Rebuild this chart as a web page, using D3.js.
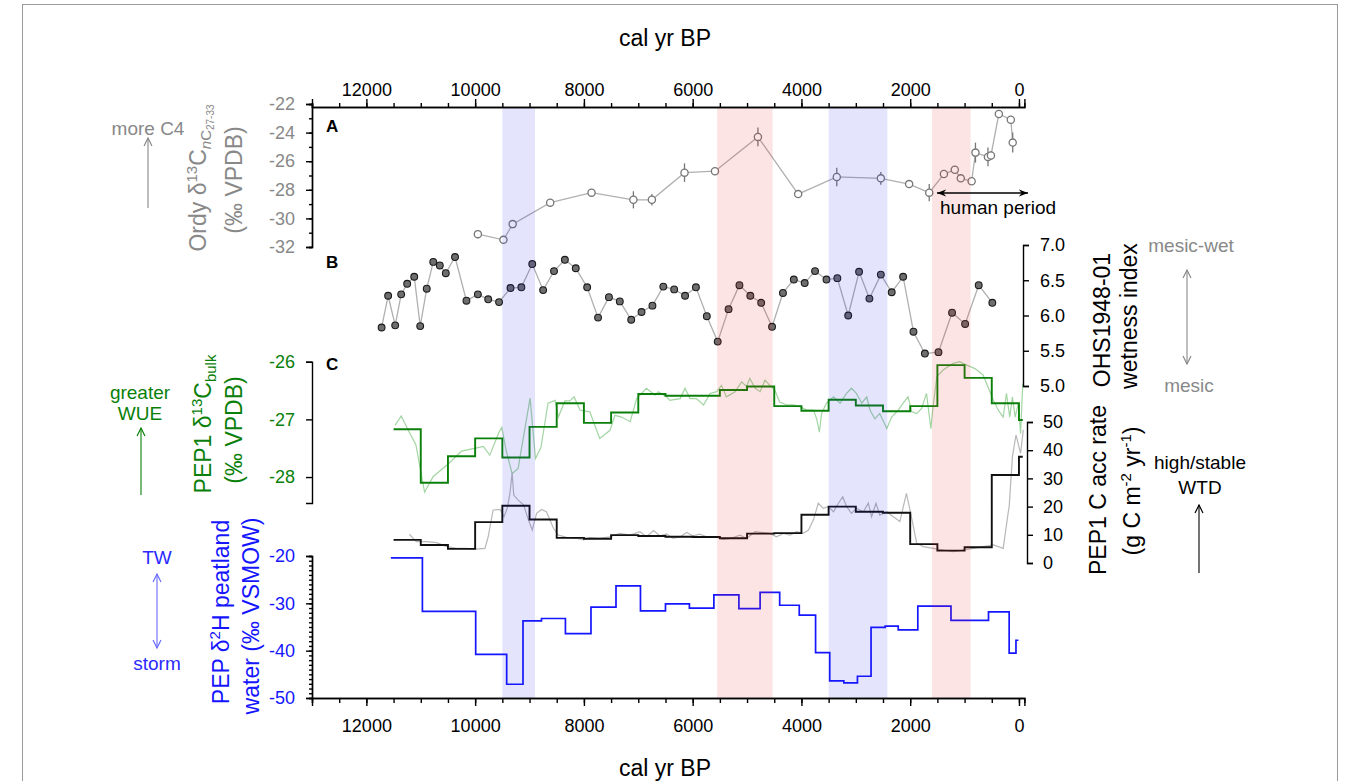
<!DOCTYPE html>
<html><head><meta charset="utf-8">
<script src="https://cdn.jsdelivr.net/npm/d3@7"></script>
<style>
body{margin:0;background:#fff;}
svg{font-family:"Liberation Sans", Arial, sans-serif;}
.axis path,.axis line{stroke:#000;stroke-width:1.4;}
.axis text{font-size:18px;}
</style></head><body>
<svg id="chart" width="1360" height="781"></svg>
<script>
// --- data ---
const xTicks = [12000, 10000, 8000, 6000, 4000, 2000, 0];

// shaded intervals (cal yr BP)
const bandStart = [9500, 5550, 3500, 1600];
const bandEnd = [8900, 4530, 2420, 890];
const bandColor = ["rgba(30,30,230,0.12)", "rgba(240,30,30,0.12)", "rgba(30,30,230,0.12)", "rgba(240,30,30,0.12)"];

// A: Ordy d13C nC27-33
const ordyYear = [9950, 9480, 9310, 8620, 7860, 7090, 6750, 6150, 5590, 4800, 4060, 3350, 2540, 2020, 1650, 1380, 1180, 1070, 870, 800, 570, 515, 370, 150, 115];
const ordyVal = [-31.1, -31.5, -30.4, -28.9, -28.2, -28.7, -28.7, -26.8, -26.7, -24.3, -28.3, -27.1, -27.2, -27.6, -28.2, -26.9, -26.6, -27.2, -27.4, -25.4, -25.7, -25.6, -22.7, -23.1, -24.7];
const ordyErr = [0, 0, 0, 0, 0, 0.6, 0.4, 0.65, 0, 0.65, 0, 0.65, 0.45, 0, 0.6, 0, 0, 0, 0, 0.7, 0.65, 0.3, 0, 0, 0.7];

// B: OHS1948-01 wetness index
const wetYear = [11720, 11600, 11470, 11360, 11250, 11120, 11010, 10890, 10770, 10650, 10540, 10370, 10160, 9950, 9760, 9560, 9350, 9150, 8950, 8750, 8550, 8350, 8150, 7940, 7740, 7540, 7340, 7130, 6940, 6740, 6540, 6340, 6140, 5940, 5740, 5540, 5340, 5140, 4940, 4740, 4540, 4340, 4140, 3940, 3750, 3540, 3340, 3140, 2940, 2750, 2540, 2340, 2130, 1940, 1730, 1480, 1230, 990, 740, 490];
const wetVal = [5.83, 6.28, 5.86, 6.30, 6.45, 6.55, 5.85, 6.38, 6.76, 6.71, 6.60, 6.83, 6.21, 6.30, 6.23, 6.19, 6.39, 6.40, 6.73, 6.36, 6.63, 6.79, 6.67, 6.40, 5.97, 6.26, 6.20, 5.94, 6.05, 6.14, 6.41, 6.37, 6.28, 6.40, 5.99, 5.63, 6.09, 6.43, 6.28, 6.18, 5.84, 6.32, 6.51, 6.46, 6.63, 6.51, 6.53, 6.00, 6.62, 6.24, 6.58, 6.33, 6.55, 5.77, 5.46, 5.48, 6.04, 5.88, 6.43, 6.18];

// C: PEP1 d13C bulk (raw + 500-yr bins)
const d13Year = [11470, 11360, 11230, 11090, 10930, 10770, 10490, 10250, 9990, 9850, 9730, 9560, 9510, 9430, 9320, 9210, 8990, 8890, 8790, 8660, 8530, 8470, 8350, 8260, 8180, 8070, 7890, 7710, 7520, 7430, 7310, 7150, 7030, 6850, 6690, 6630, 6480, 6420, 6230, 6140, 6050, 5930, 5800, 5680, 5560, 5470, 5380, 5220, 5100, 5010, 4950, 4850, 4760, 4670, 4580, 4490, 4400, 4270, 4150, 4030, 3900, 3780, 3720, 3670, 3630, 3540, 3410, 3290, 3170, 3080, 2990, 2890, 2800, 2740, 2650, 2560, 2430, 2340, 2220, 2130, 2040, 1970, 1880, 1790, 1700, 1620, 1580, 1510, 1390, 1210, 1090, 960, 810, 660, 560, 470, 380, 290, 230, 170, 120, 70, 10, -30, -70];
const d13Val = [-27.10, -26.94, -27.19, -27.44, -28.26, -27.99, -27.77, -27.55, -27.50, -27.47, -27.62, -27.22, -27.14, -27.54, -27.94, -27.85, -26.63, -27.68, -27.49, -26.72, -26.67, -26.96, -26.68, -26.68, -26.61, -26.84, -26.87, -27.33, -27.19, -26.93, -26.96, -27.04, -26.64, -26.46, -26.58, -26.52, -26.61, -26.67, -26.64, -26.46, -26.64, -26.64, -26.75, -26.55, -26.52, -26.41, -26.61, -26.52, -26.35, -26.43, -26.29, -26.46, -26.52, -26.32, -26.41, -26.49, -26.70, -26.75, -26.75, -26.78, -26.84, -26.84, -26.99, -27.22, -26.90, -26.72, -26.61, -26.72, -26.55, -26.46, -26.55, -26.72, -26.61, -26.84, -26.99, -26.90, -27.16, -26.96, -26.84, -26.72, -26.61, -26.87, -26.90, -26.81, -26.55, -27.16, -26.78, -26.26, -26.14, -26.03, -26.00, -26.06, -26.12, -26.23, -26.46, -26.67, -26.84, -26.96, -26.55, -26.96, -26.61, -26.96, -26.72, -27.25, -26.38];
const binYear = [11500, 11000, 10500, 10000, 9500, 9000, 8500, 8000, 7500, 7000, 6500, 6000, 5500, 5000, 4500, 4000, 3500, 3000, 2500, 2000, 1500, 1000, 500, 0, -70];
const d13Bin = [-27.17, -28.10, -27.64, -27.33, -27.66, -27.13, -26.72, -27.06, -26.88, -26.56, -26.59, -26.59, -26.49, -26.43, -26.77, -26.85, -26.66, -26.76, -26.86, -26.77, -26.06, -26.28, -26.72, -27.01];

// C: PEP1 C accumulation rate (raw + 500-yr bins)
const accYear = [11210, 11080, 10890, 10710, 10520, 10340, 10160, 9970, 9820, 9760, 9670, 9540, 9470, 9410, 9360, 9320, 9290, 9210, 9110, 9020, 8950, 8870, 8780, 8690, 8560, 8470, 8320, 8130, 8010, 7890, 7710, 7520, 7340, 7150, 6970, 6850, 6720, 6600, 6480, 6360, 6230, 6110, 5990, 5870, 5740, 5590, 5440, 5310, 5130, 5010, 4850, 4700, 4580, 4460, 4330, 4210, 4090, 3970, 3870, 3780, 3690, 3600, 3510, 3410, 3320, 3240, 3170, 3080, 2990, 2860, 2770, 2710, 2630, 2560, 2430, 2310, 2190, 2070, 1990, 1880, 1760, 1580, 1390, 1210, 1020, 840, 660, 470, 290, 200, 180, 120, 55, -30, -80];
const accVal = [10.2, 7.6, 7.6, 7.2, 5.8, 5.2, 5.2, 4.9, 5.2, 9.3, 18.8, 19.0, 16.4, 19.4, 24.7, 32.0, 24.1, 22.3, 20.6, 15.3, 11.7, 17.6, 19.0, 18.2, 12.3, 9.9, 9.1, 8.7, 8.2, 9.0, 8.7, 9.3, 10.5, 9.9, 11.1, 9.3, 11.5, 9.6, 10.3, 8.7, 9.3, 10.8, 9.6, 10.2, 9.3, 9.3, 8.4, 8.7, 9.9, 8.7, 11.1, 10.8, 10.5, 9.3, 10.5, 9.9, 11.1, 10.5, 11.7, 15.3, 21.2, 19.4, 20.0, 18.2, 21.2, 23.5, 20.0, 17.6, 19.4, 18.2, 21.2, 16.4, 21.2, 17.0, 18.2, 16.4, 14.7, 24.7, 17.6, 7.0, 5.8, 5.2, 4.6, 4.0, 4.6, 5.2, 5.8, 6.4, 5.2, 17.6, 20.0, 37.7, 45.4, 38.9, 47.2];
const accBin = [8.2, 6.4, 5.0, 14.5, 20.3, 15.4, 8.9, 8.6, 9.9, 9.6, 9.3, 9.2, 8.8, 10.4, 10.6, 17.1, 20.0, 18.2, 17.8, 6.7, 4.4, 5.6, 31.2, 37.7];

// PEP d2H peatland water (steps)
const dHYear = [11550, 10970, 9990, 9420, 9120, 8780, 8340, 7870, 7410, 6960, 6500, 6060, 5610, 5150, 4760, 4400, 4040, 3740, 3480, 3220, 2970, 2720, 2460, 2220, 1860, 1250, 560, 180, 55, 10];
const dHVal = [-20.4, -31.7, -40.8, -47.1, -33.7, -33.2, -36.4, -30.8, -26.3, -31.6, -30.1, -31.0, -28.2, -31.1, -27.7, -30.4, -32.5, -40.4, -46.4, -46.8, -45.4, -35.1, -34.8, -35.6, -30.6, -33.6, -31.8, -40.5, -37.8];

// --- scales ---
const svg = d3.select("#chart");
const x = d3.scaleLinear().domain([13000, -100]).range([312, 1024.4]);
const yA = d3.scaleLinear().domain([-32, -22]).range([247, 104]);
const yB = d3.scaleLinear().domain([5, 7]).range([386, 245]);
const yG = d3.scaleLinear().domain([-28.45, -26]).range([503, 361.7]);
const yK = d3.scaleLinear().domain([0, 50]).range([563, 422]);
const yH = d3.scaleLinear().domain([-50, -20]).range([698, 556]);

// frame
svg.append("rect").attr("x", 22.5).attr("y", 4.5).attr("width", 1315).attr("height", 800)
    .attr("fill", "none").attr("stroke", "#9a9a9a").attr("stroke-width", 1);

// step points (last year closes the final bin)
function stepPts(years, vals) {
    const pts = vals.map((v, i) => [years[i], v]);
    pts.push([years[years.length - 1], vals[vals.length - 1]]);
    return pts;
}

// 1. raw lines
svg.append("path")
    .datum(d13Year.map((d, i) => [d, d13Val[i]]))
    .attr("fill", "none").attr("stroke", "#8ccb8c").attr("stroke-width", 1.2).attr("opacity", 0.8)
    .attr("d", d3.line().x(d => x(d[0])).y(d => yG(d[1])));

svg.append("path")
    .datum(accYear.map((d, i) => [d, accVal[i]]))
    .attr("fill", "none").attr("stroke", "#b8b8b8").attr("stroke-width", 1.2)
    .attr("d", d3.line().x(d => x(d[0])).y(d => yK(d[1])));

// 2. step lines
svg.append("path")
    .datum(stepPts(binYear, d13Bin))
    .attr("fill", "none").attr("stroke", "#0a800a").attr("stroke-width", 1.9)
    .attr("d", d3.line().curve(d3.curveStepAfter).x(d => x(d[0])).y(d => yG(d[1])));

svg.append("path")
    .datum(stepPts(binYear, accBin))
    .attr("fill", "none").attr("stroke", "#111").attr("stroke-width", 1.9)
    .attr("d", d3.line().curve(d3.curveStepAfter).x(d => x(d[0])).y(d => yK(d[1])));

svg.append("path")
    .datum(stepPts(dHYear, dHVal))
    .attr("fill", "none").attr("stroke", "#1515ff").attr("stroke-width", 1.7)
    .attr("d", d3.line().curve(d3.curveStepAfter).x(d => x(d[0])).y(d => yH(d[1])));

// 3. panel A
const ordy = ordyYear.map((d, i) => ({ t: d, v: ordyVal[i], e: ordyErr[i] }));
svg.append("path").datum(ordy)
    .attr("fill", "none").attr("stroke", "#b0b0b0").attr("stroke-width", 1.3)
    .attr("d", d3.line().x(d => x(d.t)).y(d => yA(d.v)));
svg.selectAll(".err").data(ordy.filter(d => d.e > 0)).enter().append("line")
    .attr("x1", d => x(d.t)).attr("x2", d => x(d.t))
    .attr("y1", d => yA(d.v - d.e)).attr("y2", d => yA(d.v + d.e))
    .attr("stroke", "#777").attr("stroke-width", 1.3);
svg.selectAll(".ordy").data(ordy).enter().append("circle")
    .attr("cx", d => x(d.t)).attr("cy", d => yA(d.v)).attr("r", 3.6)
    .attr("fill", "#fff").attr("stroke", "#777").attr("stroke-width", 1.3);

// 4. panel B
const wet = wetYear.map((d, i) => [d, wetVal[i]]);
svg.append("path").datum(wet)
    .attr("fill", "none").attr("stroke", "#b0b0b0").attr("stroke-width", 1.3)
    .attr("d", d3.line().x(d => x(d[0])).y(d => yB(d[1])));
svg.selectAll(".wet").data(wet).enter().append("circle")
    .attr("cx", d => x(d[0])).attr("cy", d => yB(d[1])).attr("r", 3.4)
    .attr("fill", "#6e6e6e").attr("stroke", "#1a1a1a").attr("stroke-width", 1.1);

// 5. shaded intervals (on top, translucent)
svg.selectAll(".band").data(bandStart).enter().append("rect")
    .attr("x", (d, i) => x(d)).attr("width", (d, i) => x(bandEnd[i]) - x(d))
    .attr("y", 107).attr("height", 698 - 107)
    .attr("fill", (d, i) => bandColor[i]);

// 6. axes
const plain = d => String(d);
function styleAxis(g, color, size) {
    g.attr("class", "axis");
    g.selectAll("text").attr("fill", color).style("font-size", (size || 18) + "px");
}
// top time axis
svg.append("g").attr("transform", "translate(0,107)")
    .call(d3.axisTop(x).tickValues(d3.range(0, 13001, 500)).tickSize(4).tickFormat(""))
    .call(styleAxis, "#000");
svg.append("g").attr("transform", "translate(0,107)")
    .call(d3.axisTop(x).tickValues(xTicks).tickSize(8).tickPadding(3).tickFormat(plain))
    .call(styleAxis, "#000");
// bottom time axis
svg.append("g").attr("transform", "translate(0,698)")
    .call(d3.axisBottom(x).tickValues(d3.range(0, 13001, 500)).tickSize(5).tickFormat(""))
    .call(styleAxis, "#000");
svg.append("g").attr("transform", "translate(0,698)")
    .call(d3.axisBottom(x).tickValues(xTicks).tickSize(8).tickPadding(13).tickFormat(plain))
    .call(styleAxis, "#000");

// A axis
svg.append("g").attr("transform", "translate(312,0)")
    .call(d3.axisLeft(yA).tickValues(d3.range(-32, -21, 1)).tickSize(3).tickFormat(""))
    .call(styleAxis, "#888");
svg.append("g").attr("transform", "translate(312,0)")
    .call(d3.axisLeft(yA).tickValues([-32, -30, -28, -26, -24, -22]).tickSize(6).tickPadding(11).tickFormat(plain))
    .call(styleAxis, "#888", 18);
// B axis
svg.append("g").attr("transform", "translate(1023,0)")
    .call(d3.axisRight(yB).tickValues([5, 5.5, 6, 6.5, 7]).tickSize(6).tickPadding(11).tickFormat(d3.format(".1f")))
    .call(styleAxis, "#000");
// green axis
svg.append("g").attr("transform", "translate(312,0)")
    .call(d3.axisLeft(yG).tickValues([-28, -27, -26]).tickSize(6).tickPadding(11).tickFormat(plain))
    .call(styleAxis, "#0a800a", 18);
// acc axis
svg.append("g").attr("transform", "translate(1027,0)")
    .call(d3.axisRight(yK).tickValues([0, 10, 20, 30, 40, 50]).tickSize(6).tickPadding(10).tickFormat(plain))
    .call(styleAxis, "#000");
// d2H axis
svg.append("g").attr("transform", "translate(312,0)")
    .call(d3.axisLeft(yH).tickValues(d3.range(-50, -19, 1)).tickSize(3).tickFormat(""))
    .call(styleAxis, "#1515ff");
svg.append("g").attr("transform", "translate(312,0)")
    .call(d3.axisLeft(yH).tickValues([-50, -40, -30, -20]).tickSize(6).tickPadding(11).tickFormat(plain))
    .call(styleAxis, "#1515ff", 18);

// 7. texts
svg.append("text").attr("x", 665).attr("y", 46).attr("text-anchor", "middle")
    .attr("font-size", 23).text("cal yr BP");
svg.append("text").attr("x", 665).attr("y", 776).attr("text-anchor", "middle")
    .attr("font-size", 23).text("cal yr BP");

[["A", 132], ["B", 268], ["C", 370]].forEach(p => {
    svg.append("text").attr("x", 326).attr("y", p[1]).attr("font-size", 17)
        .attr("font-weight", "bold").text(p[0]);
});

svg.append("text").attr("x", 940).attr("y", 214).attr("font-size", 19).text("human period");
svg.append("defs").html(
    '<marker id="ah" viewBox="0 0 10 10" refX="9" refY="5" markerWidth="9" markerHeight="9" orient="auto-start-reverse">' +
    '<path d="M1,1 L9,5 L1,9" fill="none" stroke="context-stroke" stroke-width="1.2"/></marker>' +
    '<marker id="ahk" viewBox="0 0 10 10" refX="9" refY="5" markerWidth="8" markerHeight="8" orient="auto-start-reverse">' +
    '<path d="M0,1.5 L9,5 L0,8.5 L3,5 Z" fill="#000"/></marker>');
svg.append("line").attr("x1", 937).attr("x2", 1028).attr("y1", 193).attr("y2", 193)
    .attr("stroke", "#000").attr("stroke-width", 1.3)
    .attr("marker-start", "url(#ahk)").attr("marker-end", "url(#ahk)");

// rotated axis titles
function vtext(cx, cy, color, build) {
    const t = svg.append("text")
        .attr("transform", `translate(${cx},${cy}) rotate(-90)`)
        .attr("text-anchor", "middle").attr("font-size", 23).attr("fill", color);
    build(t);
}
vtext(206, 178, "#888", t => {
    t.append("tspan").text("Ordy \u03b4");
    t.append("tspan").attr("dy", -9).attr("font-size", 15).text("13");
    t.append("tspan").attr("dy", 9).text("C");
    t.append("tspan").attr("dy", 5).attr("font-size", 15).attr("font-style", "italic").text("n");
    t.append("tspan").attr("font-size", 15).text("C");
    t.append("tspan").attr("dy", 3).attr("font-size", 10).text("27-33");
});
vtext(242, 180, "#888", t => t.text("(\u2030 VPDB)"));

vtext(211, 424, "#0a800a", t => {
    t.append("tspan").text("PEP1 \u03b4");
    t.append("tspan").attr("dy", -9).attr("font-size", 15).text("13");
    t.append("tspan").attr("dy", 9).text("C");
    t.append("tspan").attr("dy", 5).attr("font-size", 15).text("bulk");
});
vtext(242, 430, "#0a800a", t => t.text("(\u2030 VPDB)"));

vtext(229, 612, "#1515ff", t => {
    t.append("tspan").text("PEP \u03b4");
    t.append("tspan").attr("dy", -9).attr("font-size", 15).text("2");
    t.append("tspan").attr("dy", 9).text("H peatland");
});
vtext(259, 616, "#1515ff", t => t.text("water (\u2030 VSMOW)"));

vtext(1110, 320, "#000", t => t.text("OHS1948-01"));
vtext(1137, 316, "#000", t => t.text("wetness index"));
vtext(1106, 490, "#000", t => t.text("PEP1 C acc rate"));
vtext(1140, 491, "#000", t => {
    t.append("tspan").text("(g C m");
    t.append("tspan").attr("dy", -9).attr("font-size", 15).text("-2");
    t.append("tspan").attr("dy", 9).text(" yr");
    t.append("tspan").attr("dy", -9).attr("font-size", 15).text("-1");
    t.append("tspan").attr("dy", 9).text(")");
});

// side annotations
function note(x0, y0, color, str) {
    svg.append("text").attr("x", x0).attr("y", y0).attr("text-anchor", "middle")
        .attr("font-size", 19).attr("fill", color).text(str);
}
function arrow(x0, y1, y2, color, both) {
    const l = svg.append("line").attr("x1", x0).attr("x2", x0).attr("y1", y1).attr("y2", y2)
        .attr("stroke", color).attr("stroke-width", 1.1).attr("marker-end", "url(#ah)");
    if (both) l.attr("marker-start", "url(#ah)");
}
note(148, 135, "#888", "more C4");
arrow(148, 208, 138, "#888", false);
note(140, 399, "#0a800a", "greater");
note(140, 420, "#0a800a", "WUE");
arrow(141, 495, 428, "#0a800a", false);
note(157, 564, "#2a2aff", "TW");
note(157, 670, "#2a2aff", "storm");
arrow(157, 574, 648, "#6a6aff", true);
note(1191, 252, "#888", "mesic-wet");
note(1189, 392, "#888", "mesic");
arrow(1187, 270, 364, "#888", true);
note(1200, 469, "#000", "high/stable");
note(1200, 494, "#000", "WTD");
arrow(1199, 573, 505, "#000", false);
</script></body></html>
